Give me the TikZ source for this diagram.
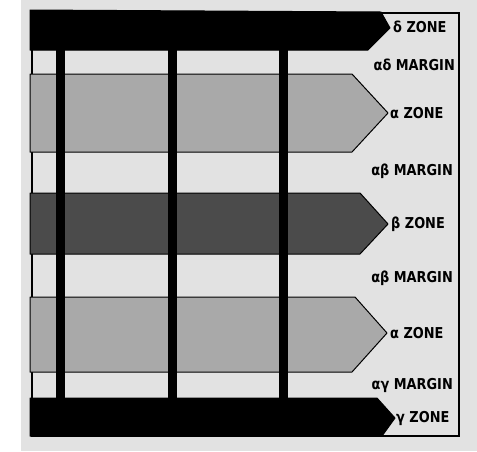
\documentclass[tikz,border=0pt]{standalone}
\usepackage{fontspec}
\setmainfont{DejaVu Sans}
\newcommand{\zlab}[1]{\scalebox{0.86}[1]{#1}}
\begin{document}
\begin{tikzpicture}[x=1pt,y=-1pt,
  paper/.style={fill=paperc,draw=none},
  zonealpha/.style={fill=alphac,draw=black,line width=1pt,line join=round},
  zonebeta/.style={fill=betac,draw=black,line width=1pt,line join=round},
  zoneblack/.style={fill=black,draw=black,line width=1pt,line join=round},
  bar/.style={fill=black,draw=none},
  lbl/.style={font=\fontsize{15}{16}\selectfont\bfseries,inner sep=0pt,text=black},
  frame/.style={draw=black,line width=1.6pt}]
\definecolor{paperc}{HTML}{E2E2E2}
\definecolor{alphac}{HTML}{A9A9A9}
\definecolor{betac}{HTML}{4B4B4B}
\useasboundingbox (0,0) rectangle (477,451);
\fill[white] (0,0) rectangle (477,451);
\fill[paper] (21,0) rectangle (477,451);
% frame
\draw[frame] (32,13) rectangle (459,436);
% zones
\draw[zoneblack] (30,10) -- (381,12) -- (390,28) -- (368,50) -- (30,50) -- cycle;
\draw[zonealpha] (30,74) -- (352,74) -- (388,113) -- (352,152) -- (30,152) -- cycle;
\draw[zonebeta] (30,193) -- (360,193) -- (388,224) -- (360,254) -- (30,254) -- cycle;
\draw[zonealpha] (30,297) -- (355,297) -- (387,333) -- (352,372) -- (30,372) -- cycle;
\draw[zoneblack] (30,398) -- (377,398) -- (395,418) -- (382,436) -- (30,436) -- cycle;
% vertical bars
\fill[bar] (56,49) rectangle (65,399);
\fill[bar] (168,49) rectangle (177,399);
\fill[bar] (279,49) rectangle (288,399);
% zone labels
\node[lbl,anchor=west] (ld) at (393,27) {\zlab{δ ZONE}};
\node[lbl,anchor=west] (la1) at (390,113) {\zlab{α ZONE}};
\node[lbl,anchor=west] (lb) at (391,224) {\zlab{β ZONE}};
\node[lbl,anchor=west] (la2) at (390,333) {\zlab{α ZONE}};
\node[lbl,anchor=west] (lg) at (396,418) {\zlab{γ ZONE}};
% margin labels
\node[lbl,anchor=east] (mad) at (455,65) {\zlab{αδ MARGIN}};
\node[lbl,anchor=east] (mab1) at (453,171) {\zlab{αβ MARGIN}};
\node[lbl,anchor=east] (mab2) at (453,278) {\zlab{αβ MARGIN}};
\node[lbl,anchor=east] (mag) at (453,385) {\zlab{αγ MARGIN}};
\end{tikzpicture}
\end{document}
